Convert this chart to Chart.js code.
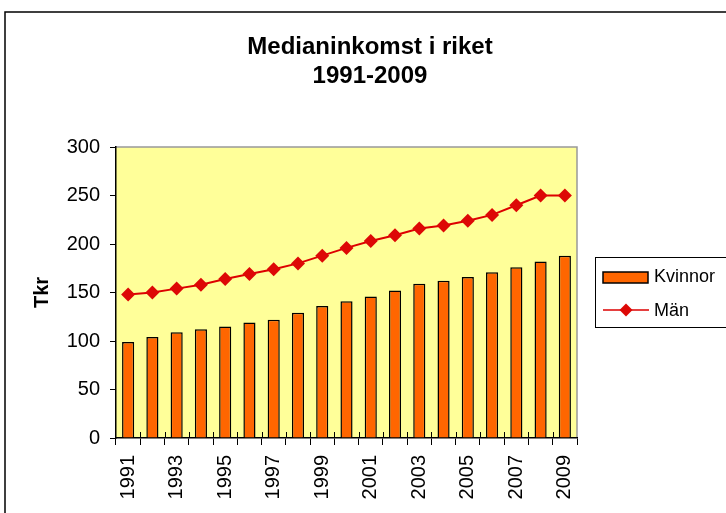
<!DOCTYPE html>
<html>
<head>
<meta charset="utf-8">
<script src="https://cdn.jsdelivr.net/npm/chart.js@4"></script>
<style>
  html, body { margin: 0; padding: 0; background: #fff; }
  #wrap { width: 726px; height: 513px; }
</style>
</head>
<body>
<div id="wrap"><canvas id="myChart" width="726" height="513"></canvas></div>
<script>
// data (Tkr)
const years = ['1991','1992','1993','1994','1995','1996','1997','1998','1999','2000',
               '2001','2002','2003','2004','2005','2006','2007','2008','2009'];
const kvinnor = [99, 104, 109, 112, 115, 119, 122, 129, 136, 141, 146, 152, 159, 162, 166, 171, 176, 182, 188];
const man = [148, 150, 154, 158, 164, 169, 174, 180, 188, 196, 203, 209, 216, 219, 224, 230, 240, 250, 250];
const yTicks = [0, 50, 100, 150, 200, 250, 300];

const FONT = 'Arial, "Liberation Sans", sans-serif';

// frame, plot background, titles and legend box
const decor = {
    id: 'decor',
    beforeDraw(chart) {
        const c = chart.ctx, a = chart.chartArea;
        c.save();
        c.fillStyle = '#fff';
        c.fillRect(0, 0, chart.width, chart.height);
        c.strokeStyle = '#000';
        c.lineWidth = 1.5;
        c.strokeRect(5, 12, chart.width + 10, chart.height + 10);
        c.fillStyle = '#FFFF99';
        c.fillRect(a.left, a.top, a.right - a.left, a.bottom - a.top);
        c.strokeStyle = '#999';
        c.lineWidth = 1.5;
        c.beginPath();
        c.moveTo(a.left, a.top);
        c.lineTo(a.right, a.top);
        c.lineTo(a.right, a.bottom);
        c.stroke();
        c.restore();
    },
    afterDraw(chart) {
        const c = chart.ctx, a = chart.chartArea;
        c.save();
        // small tick stubs above the x axis, between categories
        const xs = chart.scales.x;
        c.strokeStyle = '#000';
        c.lineWidth = 1;
        for (let i = 1; i < years.length; i++) {
            const x = Math.round((xs.getPixelForTick(i - 1) + xs.getPixelForTick(i)) / 2) + 0.5;
            c.beginPath();
            c.moveTo(x, a.bottom - 6);
            c.lineTo(x, a.bottom);
            c.stroke();
        }
        // title
        c.fillStyle = '#000';
        c.font = 'bold 24px ' + FONT;
        c.textAlign = 'center';
        c.textBaseline = 'middle';
        c.fillText('Medianinkomst i riket', 370, 47);
        c.fillText('1991-2009', 370, 76);
        // y axis title
        c.save();
        c.translate(42, (a.top + a.bottom) / 2);
        c.rotate(-Math.PI / 2);
        c.font = 'bold 20px ' + FONT;
        c.fillText('Tkr', 0, 0);
        c.restore();
        // legend
        const ds = chart.data.datasets;
        c.strokeStyle = '#000';
        c.lineWidth = 1;
        c.strokeRect(595.5, 257.5, 140, 70);
        c.font = '18px ' + FONT;
        c.textAlign = 'left';
        c.fillStyle = ds[0].backgroundColor;
        c.fillRect(603, 272, 45, 11);
        c.lineWidth = 1.5;
        c.strokeRect(603, 272, 45, 11);
        c.fillStyle = '#000';
        c.fillText(ds[0].label, 654, 277);
        c.strokeStyle = ds[1].borderColor;
        c.lineWidth = 1.5;
        c.beginPath();
        c.moveTo(603, 310);
        c.lineTo(649, 310);
        c.stroke();
        c.fillStyle = ds[1].pointBackgroundColor;
        c.beginPath();
        c.moveTo(626, 303.5);
        c.lineTo(632.5, 310);
        c.lineTo(626, 316.5);
        c.lineTo(619.5, 310);
        c.closePath();
        c.fill();
        c.fillStyle = '#000';
        c.fillText(ds[1].label, 654, 311);
        c.restore();
    }
};

const ctx = document.getElementById('myChart').getContext('2d');
const myChart = new Chart(ctx, {
    data: {
        labels: years,
        datasets: [{
            type: 'bar',
            label: 'Kvinnor',
            data: kvinnor,
            backgroundColor: '#FF6600',
            borderColor: '#000',
            borderWidth: 1.5,
            barPercentage: 0.5,
            categoryPercentage: 1,
            order: 1
        }, {
            type: 'line',
            label: 'Män',
            data: man,
            borderColor: '#DD0000',
            borderWidth: 2,
            pointStyle: 'rectRot',
            pointRadius: 7,
            pointBackgroundColor: '#DD0806',
            pointBorderColor: '#DD0806',
            pointBorderWidth: 0,
            tension: 0,
            order: 0
        }]
    },
    options: {
        responsive: false,
        animation: false,
        layout: { padding: { left: 0, top: 147, right: 149, bottom: 0 } },
        plugins: { legend: { display: false }, title: { display: false }, tooltip: { enabled: false } },
        scales: {
            x: {
                offset: true,
                grid: { offset: true, drawOnChartArea: false, drawTicks: true, tickLength: 7, color: '#000', lineWidth: 1 },
                border: { display: true, color: '#000', width: 1.5 },
                ticks: {
                    autoSkip: false,
                    minRotation: 90,
                    maxRotation: 90,
                    padding: 10,
                    color: '#000',
                    font: { family: FONT, size: 20 },
                    callback: function (v, i) { return i % 2 === 0 ? years[i] : ''; }
                },
                afterFit: function (s) { s.height = 75; }
            },
            y: {
                min: 0,
                max: 300,
                grid: { drawOnChartArea: false, drawTicks: true, tickLength: 6, color: '#000', lineWidth: 1 },
                border: { display: true, color: '#000', width: 1.5 },
                afterBuildTicks: function (s) { s.ticks = yTicks.map(v => ({ value: v })); },
                ticks: {
                    padding: 10,
                    color: '#000',
                    font: { family: FONT, size: 20 }
                },
                afterFit: function (s) { s.width = 116; }
            }
        }
    },
    plugins: [decor]
});
</script>
</body>
</html>
